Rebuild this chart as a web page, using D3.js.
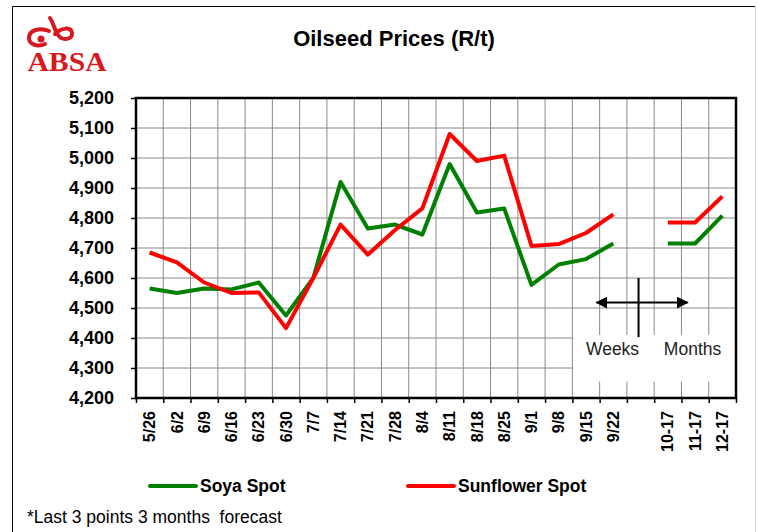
<html>
<head>
<script src="https://d3js.org/d3.v7.min.js"></script>
<style>
    body { margin: 0; background: white; }
    text { font-family: "Liberation Sans", Arial, sans-serif; }
</style>
</head>
<body>
<svg id="chart" width="758" height="532"></svg>
<script>
    // categories (the blank one separates the weekly and the monthly points)
    const dates = ["5/26","6/2","6/9","6/16","6/23","6/30","7/7","7/14","7/21","7/28","8/4",
                   "8/11","8/18","8/25","9/1","9/8","9/15","9/22"," ","10-17","11-17","12-17"]
    const soya = [4565,4550,4565,4562,4585,4475,4600,4920,4765,4778,4745,
                  4980,4818,4832,4577,4645,4663,4715,null,4715,4715,4808]
    const sunflower = [4685,4652,4585,4550,4552,4433,4600,4778,4678,4760,4832,
                       5080,4990,5008,4707,4713,4750,4812,null,4785,4785,4872]
    const yTicks = d3.range(4200, 5201, 100)

    const svg = d3.select("svg#chart")
    const margin = {top: 98, right: 22, bottom: 134, left: 136};
    const width = +svg.attr("width")
    const height = +svg.attr("height")

    // outer frame
    svg.append("path").attr("d", "M12.5,532 V6.5 H755").attr("fill", "none").attr("stroke", "black")
    svg.append("line").attr("x1", 755.5).attr("x2", 755.5).attr("y1", 6).attr("y2", 532)
        .attr("stroke", "#d8d8d8")

    // logo
    const logo = svg.append("g").attr("fill", "none").attr("stroke", "#d7191f")
        .attr("stroke-width", 4).attr("stroke-linecap", "round")
    logo.append("path").attr("d", "M49,31 C40,27 29,30 29,38 C29,45 38,47 45,44")
    logo.append("circle").attr("cx", 41).attr("cy", 39).attr("r", 3.5).attr("fill", "#d7191f").attr("stroke", "none")
    logo.append("path").attr("d", "M50,18 C54,24 54,29 58,35 C62,41 73,40 72,33 C71,26 61,28 55,34")
    svg.append("text").attr("x", 67).attr("y", 71).attr("text-anchor", "middle")
        .attr("transform", "translate(67,0) scale(1.1,1) translate(-67,0)")
        .style("font-family", "'Liberation Serif', serif").style("font-weight", "bold")
        .style("font-size", "27px").attr("fill", "#d7191f").text("ABSA")

    // title
    svg.append("text").attr("x", 394).attr("y", 46).attr("text-anchor", "middle")
        .style("font-weight", "bold").style("font-size", "22px").text("Oilseed Prices (R/t)")

    const x = d3.scaleBand().domain(dates).range([margin.left, width - margin.right]).padding(0)
    const xi = d3.scaleLinear().domain([0, dates.length]).range([margin.left, width - margin.right])
    const y = d3.scaleLinear().domain([4200, 5200]).range([height - margin.bottom, margin.top])

    // grid
    svg.append("g").selectAll("line").data(yTicks).join("line")
        .attr("x1", margin.left).attr("x2", width - margin.right)
        .attr("y1", d => y(d)).attr("y2", d => y(d))
        .attr("stroke", "#8a8a8a").attr("stroke-width", 1)
    svg.append("g").selectAll("line").data(d3.range(1, dates.length)).join("line")
        .attr("x1", d => xi(d)).attr("x2", d => xi(d))
        .attr("y1", margin.top).attr("y2", height - margin.bottom)
        .attr("stroke", "#8a8a8a").attr("stroke-width", 1)

    // white box behind Weeks / Months
    const mid = x(" ") + x.bandwidth() / 2
    svg.append("rect").attr("x", xi(16) + 1).attr("y", y(4410)).attr("width", width - margin.right - xi(16) - 2)
        .attr("height", y(4255) - y(4410)).attr("fill", "white")

    // y axis
    const yAxis = svg.append("g").attr("transform", `translate(${margin.left},0)`)
        .call(d3.axisLeft(y).tickValues(yTicks).tickFormat(d3.format(",")).tickSize(5).tickSizeOuter(0).tickPadding(17))
    yAxis.select(".domain").remove()
    yAxis.selectAll("line").attr("stroke", "black").attr("stroke-width", 1.5)
    yAxis.selectAll("text").style("font-size", "18px").style("font-weight", "bold")
        .style("font-family", "'Liberation Sans', Arial, sans-serif").attr("fill", "black")

    // x axis ticks at the category edges
    const xAxis = svg.append("g").attr("transform", `translate(0,${height - margin.bottom})`)
        .call(d3.axisBottom(xi).tickValues(d3.range(0, dates.length + 1)).tickFormat("").tickSize(5).tickSizeOuter(0))
    xAxis.select(".domain").remove()
    xAxis.selectAll("line").attr("stroke", "black").attr("stroke-width", 1.5)

    svg.append("g").selectAll("text").data(dates).join("text")
        .attr("transform", d => `translate(${x(d) + x.bandwidth() / 2},${height - margin.bottom + 13}) rotate(-90)`)
        .attr("text-anchor", "end").attr("dy", "0.35em")
        .style("font-size", "16px").style("font-weight", "bold").text(d => d)

    // plot frame
    svg.append("rect").attr("x", margin.left).attr("y", margin.top)
        .attr("width", width - margin.left - margin.right).attr("height", height - margin.top - margin.bottom)
        .attr("fill", "none").attr("stroke", "black").attr("stroke-width", 2.5)

    // weeks / months marker
    svg.append("defs").append("marker").attr("id", "arrow").attr("viewBox", "0 0 10 10")
        .attr("refX", 9).attr("refY", 5).attr("markerWidth", 6).attr("markerHeight", 6)
        .attr("orient", "auto-start-reverse").attr("markerUnits", "strokeWidth")
        .append("path").attr("d", "M0,0 L10,5 L0,10 z").attr("fill", "black")
    svg.append("line").attr("x1", mid - 44).attr("x2", mid + 47).attr("y1", y(4518)).attr("y2", y(4518))
        .attr("stroke", "black").attr("stroke-width", 2)
        .attr("marker-start", "url(#arrow)").attr("marker-end", "url(#arrow)")
    svg.append("line").attr("x1", mid - 2).attr("x2", mid - 2).attr("y1", y(4600)).attr("y2", y(4403))
        .attr("stroke", "black").attr("stroke-width", 2)
    svg.append("text").attr("x", mid - 28).attr("y", y(4300) - 13).attr("text-anchor", "middle")
        .style("font-size", "17.5px").attr("fill", "#222").text("Weeks")
    svg.append("text").attr("x", mid + 52).attr("y", y(4300) - 13).attr("text-anchor", "middle")
        .style("font-size", "17.5px").attr("fill", "#222").text("Months")

    // lines
    const line = d3.line().defined(d => d != null)
        .x((d, i) => x(dates[i]) + x.bandwidth() / 2).y(d => y(d))
    svg.append("path").datum(soya).attr("d", line).attr("fill", "none")
        .attr("stroke", "#008000").attr("stroke-width", 4).attr("stroke-linejoin", "round")
    svg.append("path").datum(sunflower).attr("d", line).attr("fill", "none")
        .attr("stroke", "#ff0000").attr("stroke-width", 4).attr("stroke-linejoin", "round")

    // legend
    const legend = [{name: "Soya Spot", color: "#008000", x: 150}, {name: "Sunflower Spot", color: "#ff0000", x: 408}]
    const lg = svg.append("g").selectAll("g").data(legend).join("g")
    lg.append("line").attr("x1", d => d.x).attr("x2", d => d.x + 46).attr("y1", 486).attr("y2", 486)
        .attr("stroke", d => d.color).attr("stroke-width", 4).attr("stroke-linecap", "round")
    lg.append("text").attr("x", d => d.x + 50).attr("y", 492)
        .style("font-size", "17.5px").style("font-weight", "bold").text(d => d.name)

    svg.append("text").attr("x", 27).attr("y", 523).style("font-size", "17.5px")
        .text("*Last 3 points 3 months  forecast").attr("xml:space", "preserve")
</script>
</body>
</html>
